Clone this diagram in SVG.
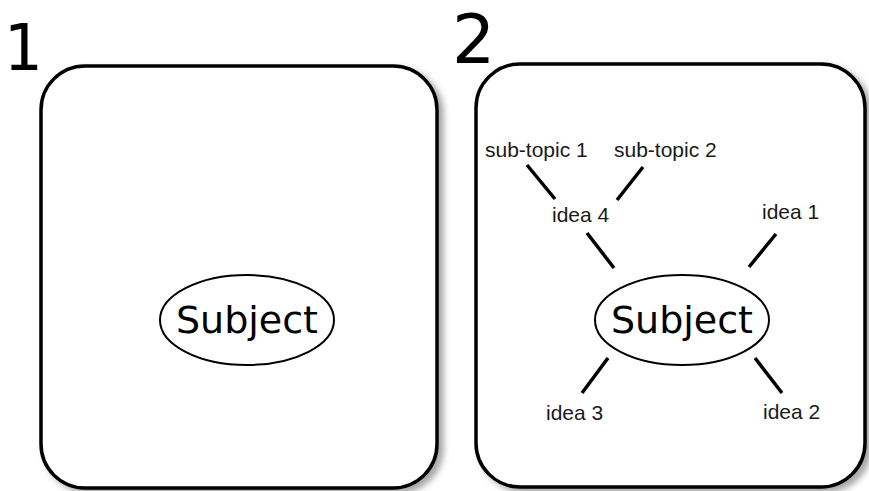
<svg xmlns="http://www.w3.org/2000/svg" width="869" height="491" viewBox="0 0 869 491">
<defs>
<filter id="sh" x="-10%" y="-10%" width="130%" height="130%">
<feDropShadow dx="5" dy="4" stdDeviation="3" flood-color="#000" flood-opacity="0.35"/>
</filter>
<style>
.box{fill:#fff;stroke:#000;stroke-width:3.5}
.ell{fill:#fff;stroke:#000;stroke-width:2}
.num1{font-family:"DejaVu Sans Mono",monospace;font-size:64px;fill:#000}
.num2{font-family:"DejaVu Sans",sans-serif;font-size:68px;fill:#000}
.subj{font-family:"DejaVu Sans",sans-serif;font-size:38px;fill:#000;text-anchor:middle}
.lbl{font-family:"Liberation Sans",Arial,sans-serif;font-size:21px;fill:#1a1a1a}
.ln{stroke:#000;stroke-width:3.5;stroke-linecap:butt}
</style>
</defs>
<rect width="869" height="491" fill="#fff"/>
<g id="panel1">
<text class="num1" x="3" y="70">1</text>
<rect class="box" x="41" y="66" width="396" height="422" rx="44" ry="44" filter="url(#sh)"/>
</g>
<g id="subject1">
<ellipse class="ell" cx="247" cy="320" rx="87" ry="45"/>
<text class="subj" x="247" y="333">Subject</text>
</g>
<g id="panel2">
<text class="num2" x="452" y="63">2</text>
<rect class="box" x="476" y="64" width="389" height="423" rx="44" ry="44" filter="url(#sh)"/>
</g>
<g id="subject2">
<ellipse class="ell" cx="682" cy="320" rx="87" ry="45"/>
<text class="subj" x="682" y="333">Subject</text>
</g>
<g id="subtopic1"><text class="lbl" x="485" y="157">sub-topic 1</text></g>
<g id="subtopic2"><text class="lbl" x="614" y="157">sub-topic 2</text></g>
<g id="idea4"><text class="lbl" x="552" y="222">idea 4</text></g>
<g id="idea1"><text class="lbl" x="762" y="219">idea 1</text></g>
<g id="idea3"><text class="lbl" x="546" y="420">idea 3</text></g>
<g id="idea2"><text class="lbl" x="763" y="419">idea 2</text></g>
<g id="connectors">
<line class="ln" x1="527" y1="165" x2="555" y2="199"/>
<line class="ln" x1="643" y1="167" x2="617" y2="200"/>
<line class="ln" x1="587" y1="233" x2="614" y2="268"/>
<line class="ln" x1="776" y1="234" x2="749" y2="267"/>
<line class="ln" x1="608" y1="358" x2="582" y2="393"/>
<line class="ln" x1="755" y1="358" x2="782" y2="393"/>
</g>
</svg>
